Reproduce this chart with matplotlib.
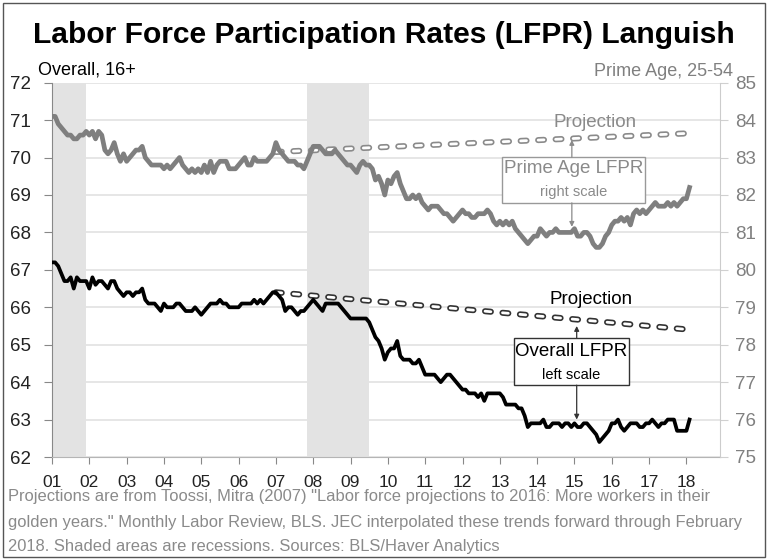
import numpy as np
import matplotlib
matplotlib.use('Agg')
import matplotlib.pyplot as plt
import matplotlib.patheffects as pe
from matplotlib.patches import Rectangle

plt.rcParams['font.family'] = ['Liberation Sans Narrow', 'Liberation Sans', 'DejaVu Sans']

# monthly LFPR, Jan 2001 - Feb 2018
overall = [
    67.2, 67.2, 67.1, 66.9, 66.7, 66.7, 66.8, 66.5, 66.8, 66.7, 66.7, 66.7,   # 2001
    66.5, 66.8, 66.6, 66.7, 66.7, 66.6, 66.5, 66.7, 66.7, 66.5, 66.4, 66.3,   # 2002
    66.4, 66.4, 66.3, 66.4, 66.4, 66.5, 66.2, 66.1, 66.1, 66.1, 66.0, 65.9,   # 2003
    66.1, 66.0, 66.0, 66.0, 66.1, 66.1, 66.0, 65.9, 65.9, 65.9, 66.0, 65.9,   # 2004
    65.8, 65.9, 66.0, 66.1, 66.1, 66.1, 66.2, 66.1, 66.1, 66.0, 66.0, 66.0,   # 2005
    66.0, 66.1, 66.1, 66.1, 66.1, 66.2, 66.1, 66.2, 66.1, 66.2, 66.3, 66.4,   # 2006
    66.4, 66.3, 66.2, 65.9, 66.0, 66.0, 65.9, 65.8, 65.9, 65.9, 66.0, 66.1,   # 2007
    66.2, 66.1, 66.0, 65.9, 66.1, 66.1, 66.1, 66.1, 66.1, 66.0, 65.9, 65.8,   # 2008
    65.7, 65.7, 65.7, 65.7, 65.7, 65.7, 65.6, 65.4, 65.2, 65.1, 64.9, 64.6,   # 2009
    64.8, 64.9, 64.9, 65.1, 64.7, 64.6, 64.6, 64.6, 64.5, 64.5, 64.6, 64.4,   # 2010
    64.2, 64.2, 64.2, 64.2, 64.1, 64.0, 64.1, 64.2, 64.2, 64.1, 64.0, 63.9,   # 2011
    63.8, 63.8, 63.7, 63.7, 63.7, 63.6, 63.7, 63.5, 63.7, 63.7, 63.7, 63.7,   # 2012
    63.7, 63.6, 63.4, 63.4, 63.4, 63.4, 63.3, 63.3, 63.1, 62.8, 62.9, 62.9,   # 2013
    62.9, 62.9, 63.0, 62.8, 62.8, 62.9, 62.9, 62.9, 62.8, 62.9, 62.9, 62.8,   # 2014
    62.9, 62.8, 62.8, 62.9, 62.9, 62.8, 62.7, 62.6, 62.4, 62.5, 62.6, 62.7,   # 2015
    62.9, 62.9, 63.0, 62.8, 62.7, 62.8, 62.9, 62.9, 62.9, 62.8, 62.8, 62.9,   # 2016
    62.9, 63.0, 62.9, 62.8, 62.9, 62.9, 63.0, 63.0, 63.0, 62.7, 62.7, 62.7,   # 2017
    62.7, 63.0,                                                               # 2018
]
prime_age = [
    84.1, 84.1, 83.9, 83.8, 83.7, 83.6, 83.6, 83.5, 83.5, 83.6, 83.6, 83.7,   # 2001
    83.6, 83.7, 83.5, 83.7, 83.6, 83.2, 83.1, 83.2, 83.4, 83.1, 82.9, 83.1,   # 2002
    82.9, 83.0, 83.1, 83.2, 83.2, 83.3, 83.0, 82.9, 82.8, 82.8, 82.8, 82.8,   # 2003
    82.7, 82.8, 82.7, 82.8, 82.9, 83.0, 82.8, 82.7, 82.6, 82.7, 82.6, 82.7,   # 2004
    82.6, 82.8, 82.6, 82.9, 82.6, 82.8, 82.9, 82.9, 82.9, 82.7, 82.7, 82.7,   # 2005
    82.8, 82.9, 83.0, 82.8, 82.8, 83.0, 82.9, 82.9, 82.9, 82.9, 83.0, 83.1,   # 2006
    83.4, 83.2, 83.1, 83.0, 82.9, 82.9, 82.9, 82.8, 82.8, 82.7, 82.9, 83.1,   # 2007
    83.3, 83.3, 83.3, 83.2, 83.1, 83.1, 83.1, 83.2, 83.1, 83.0, 82.9, 82.8,   # 2008
    82.8, 82.7, 82.6, 82.8, 82.9, 82.8, 82.8, 82.7, 82.4, 82.5, 82.3, 82.0,   # 2009
    82.4, 82.3, 82.5, 82.6, 82.3, 82.1, 81.9, 81.9, 82.0, 81.9, 82.0, 81.8,   # 2010
    81.7, 81.6, 81.7, 81.7, 81.7, 81.6, 81.5, 81.5, 81.4, 81.3, 81.4, 81.5,   # 2011
    81.6, 81.5, 81.5, 81.4, 81.4, 81.5, 81.5, 81.5, 81.6, 81.5, 81.3, 81.2,   # 2012
    81.3, 81.2, 81.3, 81.2, 81.3, 81.1, 81.0, 80.9, 80.8, 80.7, 80.8, 80.9,   # 2013
    80.9, 81.1, 81.0, 80.9, 81.0, 81.0, 81.1, 81.0, 81.0, 81.0, 81.0, 81.0,   # 2014
    81.1, 80.9, 80.9, 81.0, 81.0, 80.9, 80.7, 80.6, 80.6, 80.7, 80.9, 81.0,   # 2015
    81.2, 81.3, 81.3, 81.4, 81.3, 81.4, 81.2, 81.5, 81.6, 81.5, 81.6, 81.5,   # 2016
    81.6, 81.7, 81.8, 81.7, 81.7, 81.7, 81.8, 81.7, 81.8, 81.7, 81.8, 81.9,   # 2017
    81.9, 82.2,                                                               # 2018
]
# projections (Toossi 2007, interpolated), start / end points
proj_x = [2007.0, 2018.1]
proj_overall = [66.4, 65.4]
proj_prime = [83.15, 83.65]
recessions = [(2001.0, 2001.92), (2007.83, 2009.5)]
tick_years = list(range(2001, 2019))
tick_labels = [f'{y % 100:02d}' for y in tick_years]
notes = ['Projections are from Toossi, Mitra (2007) "Labor force projections to 2016: More workers in their',
         'golden years." Monthly Labor Review, BLS. JEC interpolated these trends forward through February',
         '2018. Shaded areas are recessions. Sources: BLS/Haver Analytics']

t = 2001 + np.arange(len(overall)) / 12.0

fig = plt.figure(figsize=(7.68, 5.6), dpi=100)
ax = fig.add_axes([52/768, 1-457/560, 668/768, 374.3/560])
ax2 = ax.twinx()

for a, b in recessions:
    ax.axvspan(a, b, color='#e3e3e3', lw=0, zorder=0)
ax.set_ylim(62, 72); ax2.set_ylim(75, 85)
ax.set_xlim(2001, 2018.9)
ax.set_yticks(range(62, 73)); ax2.set_yticks(range(75, 86))
ax.set_xticks(tick_years); ax.set_xticklabels(tick_labels)
ax.grid(axis='y', color='#e4e4e4', lw=1.3, zorder=0)
ax.set_axisbelow(True)

ax.plot(t, overall, color='black', lw=2.7, zorder=5, solid_joinstyle='round')
ax2.plot(t, prime_age, color='#7f7f7f', lw=3.4, zorder=5, solid_joinstyle='round')

def proj(a, x, y, edge):
    a.plot(x, y, color='white', lw=2.0, ls=(0, (2.1, 4.2)), dash_capstyle='round', zorder=4,
           path_effects=[pe.Stroke(linewidth=4.4, foreground=edge), pe.Normal()])
proj(ax, proj_x, proj_overall, '#333333')
proj(ax2, proj_x, proj_prime, '#8a8a8a')

ax.spines['top'].set_visible(False); ax2.spines['top'].set_visible(False)
ax.spines['left'].set_color('#888888')
ax.spines['bottom'].set_color('#b5b5b5')
ax2.spines['right'].set_color('#cccccc')
ax2.spines['left'].set_visible(False); ax2.spines['bottom'].set_visible(False)
ax.spines['right'].set_visible(False)
ax.tick_params(axis='y', direction='out', length=6, color='#888888', labelsize=13.5, labelcolor='#222222', pad=9)
ax.tick_params(axis='x', direction='out', length=5, color='#888888', labelsize=12.5, labelcolor='#222222', pad=8)
ax2.tick_params(axis='y', direction='out', length=6, color='#d0d0d0', labelsize=13.5, labelcolor='#808080', pad=5)

# annotations (left-scale coordinates)
gray = '#8a8a8a'
ax.text(2015.55, 70.95, 'Projection', color=gray, fontsize=13.5, ha='center', va='center', zorder=6)
ax.add_patch(Rectangle((2013.06, 68.79), 3.83, 1.22, fc='white', ec='#999999', lw=1, zorder=6))
ax.text(2014.97, 69.70, 'Prime Age LFPR', color=gray, fontsize=13.5, ha='center', va='center', zorder=7)
ax.text(2014.97, 69.08, 'right scale', color=gray, fontsize=10.5, ha='center', va='center', zorder=7)
ax.annotate('', xy=(2014.93, 70.47), xytext=(2014.93, 70.01),
            arrowprops=dict(arrowstyle='-|>', color=gray, lw=0.9, mutation_scale=7, shrinkA=0, shrinkB=0), zorder=7)
ax.annotate('', xy=(2014.93, 68.15), xytext=(2014.93, 68.79),
            arrowprops=dict(arrowstyle='-|>', color=gray, lw=0.9, mutation_scale=7, shrinkA=0, shrinkB=0), zorder=7)

ax.text(2015.45, 66.2, 'Projection', color='black', fontsize=13.5, ha='center', va='center', zorder=6)
ax.add_patch(Rectangle((2013.38, 63.92), 3.08, 1.26, fc='white', ec='#333333', lw=1, zorder=6))
ax.text(2014.92, 64.83, 'Overall LFPR', color='black', fontsize=13.5, ha='center', va='center', zorder=7)
ax.text(2014.92, 64.19, 'left scale', color='black', fontsize=10.5, ha='center', va='center', zorder=7)
ax.annotate('', xy=(2015.06, 65.5), xytext=(2015.06, 65.18),
            arrowprops=dict(arrowstyle='-|>', color='#333333', lw=0.9, mutation_scale=7, shrinkA=0, shrinkB=0), zorder=7)
ax.annotate('', xy=(2015.06, 63.0), xytext=(2015.06, 63.92),
            arrowprops=dict(arrowstyle='-|>', color='#333333', lw=0.9, mutation_scale=7, shrinkA=0, shrinkB=0), zorder=7)

fig.text(0.5, 1-35/560, 'Labor Force Participation Rates (LFPR) Languish',
         fontsize=21.6, fontweight='bold', ha='center', va='center')
fig.text(38/768, 1-70/560, 'Overall, 16+', fontsize=13, ha='left', va='center')
fig.text(733/768, 1-71/560, 'Prime Age, 25-54', fontsize=13, color='#808080', ha='right', va='center')
for i, line in enumerate(notes):
    fig.text(8/768, 1-(497 + 25*i)/560, line, fontsize=11.9, color='#8a8a8a', ha='left', va='center')

fig.add_artist(Rectangle((3/768, 3/560), 762/768, 554/560, transform=fig.transFigure,
                         fill=False, ec='#555555', lw=1))
fig.savefig('out.png', dpi=100)
